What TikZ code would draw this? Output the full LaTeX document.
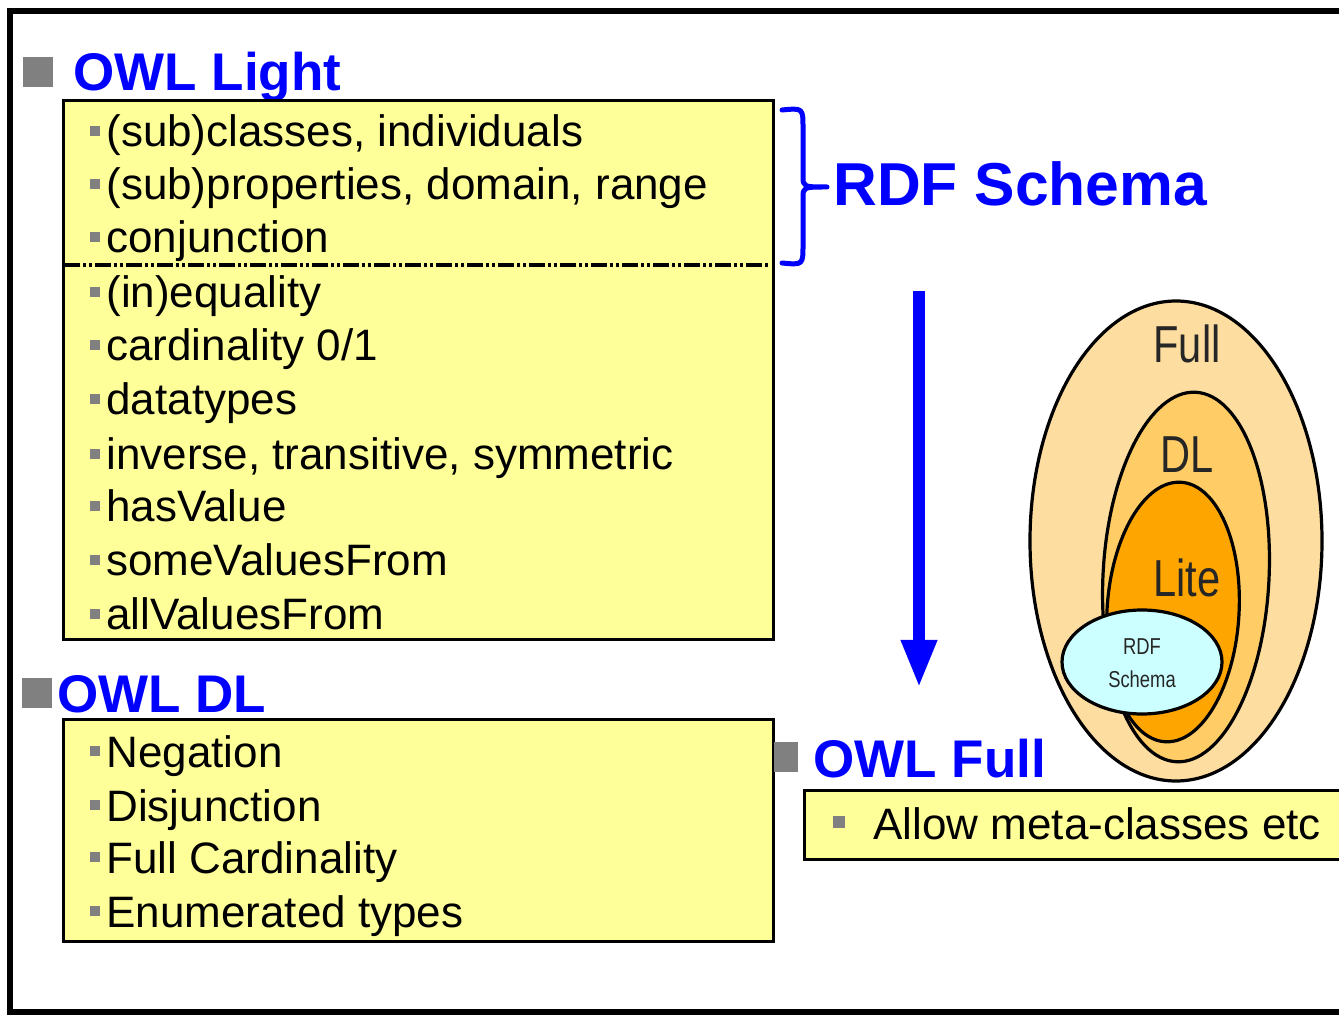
\documentclass[tikz,border=0pt]{standalone}
\usepackage{fontspec}
\setmainfont{Liberation Sans}
\usepackage{graphicx}
\usetikzlibrary{arrows.meta,positioning,shapes.geometric}
\definecolor{cyellow}{HTML}{FFFF99}
\definecolor{cblue}{HTML}{0000FF}
\definecolor{cgray}{HTML}{808080}
\definecolor{cfull}{HTML}{FDDDA0}
\definecolor{cdl}{HTML}{FFCC66}
\definecolor{clite}{HTML}{FFA500}
\definecolor{crdf}{HTML}{CCFFFF}
\newcommand{\sqbul}{{\color{cgray}\rule[5.5pt]{5pt}{5pt}}\hspace{3pt}}
\newcommand{\narrowtxt}[1]{\scalebox{0.8}[1]{#1}}

\begin{document}
\begin{tikzpicture}[
  x=0.5pt,y=-0.5pt,
  font=\fontsize{22}{26}\selectfont,
  ybox/.style={draw,line width=1.5pt,fill=cyellow,anchor=north west,inner sep=0pt},
  item/.style={anchor=base west,inner sep=0pt},
  head/.style={anchor=base west,inner sep=0pt,text=cblue,font=\fontsize{26.5}{30}\selectfont\bfseries},
  hsq/.style={fill=cgray,minimum size=15pt,inner sep=0pt},
  ell/.style={draw,line width=1.6pt},
  elab/.style={anchor=base,inner sep=0pt,text=black!85},
  arr/.style={-{Triangle[width=16.5pt,length=24pt]},line width=6pt,cblue},
  bracel/.style={cblue,line width=2.5pt,line join=round,line cap=round}]
  \useasboundingbox (0,0) rectangle (1339,1015);
  \draw[line width=3pt] (10,11) rectangle (1360,1012);

  % OWL Light
  \node[hsq] (sqlight) at (38,72) {};
  \node[head] (owllight) at (73,91) {OWL Light};
  \node[ybox,minimum width=355pt,minimum height=269.5pt] (lightbox) at (62,99) {};
  \node[item] (subcls) at (90,147) {\sqbul(sub)classes, individuals};
  \node[item] (subprop) at (90,200) {\sqbul(sub)properties, domain, range};
  \node[item] (conj) at (90,253) {\sqbul conjunction};
  \coordinate (sepl) at (64,265);
  \coordinate (sepr) at (770,265);
  \draw[line width=2.4pt,dash pattern=on 8pt off 1.5pt on 1.5pt off 1.5pt on 1.5pt off 1.5pt] (sepl) -- (sepr);
  \node[item] (ineq) at (90,308) {\sqbul(in)equality};
  \node[item] (card) at (90,361) {\sqbul cardinality 0/1};
  \node[item] (dtype) at (90,415) {\sqbul datatypes};
  \node[item] (invtr) at (90,470) {\sqbul inverse, transitive, symmetric};
  \node[item] (hasval) at (90,522) {\sqbul hasValue};
  \node[item] (someval) at (90,576) {\sqbul someValuesFrom};
  \node[item] (allval) at (90,630) {\sqbul allValuesFrom};

  % RDF Schema brace
  \draw[bracel] (782,110) .. controls (803,108) .. (803,128) -- (803,176)
    .. controls (803,187) .. (827,187) .. controls (803,187) .. (803,198)
    -- (803,245) .. controls (803,265) .. (782,263);
  \node[head,font=\fontsize{30.3}{34}\selectfont\bfseries] (rdfs) at (833,206) {RDF Schema};

  % arrow
  \coordinate (arrtop) at (919,291);
  \coordinate (arrend) at (919,688);
  \draw[arr] (arrtop) -- (arrend);

  % OWL DL
  \node[hsq] (sqdl) at (37,693) {};
  \node[head] (owldl) at (57,712) {OWL DL};
  \node[ybox,minimum width=355pt,minimum height=111pt] (dlbox) at (62,718) {};
  \node[item] (neg) at (90,767) {\sqbul Negation};
  \node[item] (disj) at (90,821) {\sqbul Disjunction};
  \node[item] (fullcard) at (90,873) {\sqbul Full Cardinality};
  \node[item] (enum) at (90,927) {\sqbul Enumerated types};

  % nested sets
  \draw[ell,fill=cfull] (1176,541) ellipse [x radius=146,y radius=240];
  \draw[ell,fill=cdl,rotate around={-3:(1186,577)}] (1186,577) ellipse [x radius=83,y radius=185];
  \draw[ell,fill=clite,rotate around={-3.5:(1173,612)}] (1173,612) ellipse [x radius=66,y radius=130];
  \draw[ell,fill=crdf] (1142,662) ellipse [x radius=80,y radius=52];
  \node[elab,font=\fontsize{26}{30}\selectfont] (fulllab) at (1187,363) {\narrowtxt{Full}};
  \node[elab,font=\fontsize{26}{30}\selectfont] (dllab) at (1187,473) {\narrowtxt{DL}};
  \node[elab,font=\fontsize{26}{30}\selectfont] (litelab) at (1187,597) {\narrowtxt{Lite}};
  \node[elab,font=\fontsize{11.5}{13}\selectfont] (rdflab) at (1142,655) {\narrowtxt{RDF}};
  \node[elab,font=\fontsize{11.5}{13}\selectfont] (schlab) at (1142,688) {\narrowtxt{Schema}};

  % OWL Full
  \node[hsq,minimum width=12pt] (sqfull) at (786,757) {};
  \node[head] (owlfull) at (813,777) {OWL Full};
  \node[ybox,minimum width=300pt,minimum height=34.5pt] (fullbox) at (803,789) {};
  \node[item] (meta) at (833,839) {{\color{cgray}\rule[5.5pt]{6pt}{6pt}}\hspace{14pt}Allow meta-classes etc};
\end{tikzpicture}
\end{document}
